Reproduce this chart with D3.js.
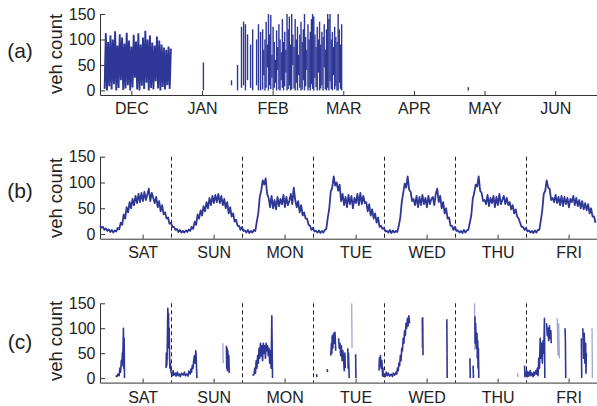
<!DOCTYPE html>
<html>
<head>
<meta charset="UTF-8">
<title>veh count</title>
<style>
  body { margin: 0; background: #fff; }
  svg { display: block; }
  text { font-family: "Liberation Sans", Arial, Helvetica, sans-serif; fill: #222; }
</style>
</head>
<body>
<script src="https://d3js.org/d3.v7.min.js"></script>
<script>
// ---- panel (a): months ----
var monthLabels = ["DEC", "JAN", "FEB", "MAR", "APR", "MAY", "JUN"]
var decStart = -11.5 // day of first December sample (days from Dec 1)
var decHigh = [112, 95, 108, 100, 116, 88, 110, 104, 92, 113, 98, 86, 109, 96, 112, 90, 104, 117, 100, 108, 94, 88, 106, 98, 90, 84, 80, 86, 82]
var decLow = [3, 0, 8, 2, 12, 0, 5, 20, 1, 4, 10, 0, 6, 25, 2, 0, 9, 3, 15, 0, 5, 2, 18, 4, 0, 7, 2, 10, 3]
// isolated bursts [day, low, high]
var aBars = [[31.0, 0, 55], [43.1, 10, 20], [45.7, 0, 50], [47.4, 5, 125], [48.3, 10, 135], [49.1, 0, 130],
  [50.0, 20, 110], [51.3, 5, 90], [52.2, 0, 120], [53.9, 10, 100], [54.7, 0, 130], [55.6, 0, 115], [145, 0, 6]]
var febStart = 56.5 // dense February block, half-day samples [low, high]
var febDense = [[2, 120], [30, 80], [0, 100], [5, 135], [45, 90], [0, 150], [10, 110], [3, 148], [25, 70], [0, 125],
  [5, 95], [15, 60], [0, 118], [40, 85], [2, 130], [0, 100], [20, 75], [5, 140], [0, 95], [8, 115],
  [35, 80], [0, 150], [3, 120], [10, 145], [0, 90], [2, 150], [50, 110], [4, 85], [0, 140], [15, 100],
  [0, 125], [30, 70], [5, 110], [0, 135], [2, 95], [20, 120], [0, 150], [8, 105], [40, 80], [0, 130],
  [5, 100], [0, 115], [12, 140], [3, 150], [0, 145], [25, 110], [6, 85], [0, 125], [35, 100], [0, 135],
  [4, 90], [10, 115], [0, 105], [45, 130], [2, 80], [0, 120], [5, 150], [0, 140], [18, 150], [3, 100],
  [0, 115], [30, 85], [2, 125], [8, 105], [0, 95], [0, 150], [15, 120], [3, 90], [0, 130]]

// ---- panel (b): one week, half-hour values ----
var dayLabels = ["SAT", "SUN", "MON", "TUE", "WED", "THU", "FRI"]
var satVals = [16, 12, 14, 8, 11, 6, 9, 4, 8, 3, 7, 5, 12, 9, 22, 18, 38, 30, 52, 42, 62, 50, 68, 56, 74, 60, 78, 62, 80, 64, 82, 66, 76, 88, 64, 80, 70, 60, 72, 52, 64, 44, 56, 38, 42, 30, 32, 20]
var sunVals = [22, 14, 14, 8, 10, 4, 8, 3, 6, 3, 7, 4, 9, 6, 14, 10, 24, 18, 38, 30, 46, 36, 54, 44, 62, 50, 70, 56, 74, 60, 76, 62, 78, 60, 74, 56, 68, 50, 62, 40, 52, 34, 40, 24, 28, 16, 16, 8]
var monVals = [14, 6, 7, 3, 8, 2, 6, 3, 8, 6, 24, 40, 72, 84, 104, 96, 108, 78, 70, 52, 74, 50, 66, 48, 72, 54, 68, 58, 76, 52, 72, 56, 64, 78, 58, 90, 66, 52, 64, 42, 56, 36, 42, 30, 30, 18, 16, 8]
var tueVals = [12, 5, 6, 3, 7, 2, 6, 3, 8, 10, 32, 50, 82, 90, 112, 94, 100, 84, 96, 64, 78, 56, 72, 52, 76, 58, 74, 50, 70, 60, 78, 56, 80, 58, 74, 60, 62, 44, 58, 36, 48, 30, 40, 22, 32, 14, 16, 10]
var wedVals = [12, 5, 6, 3, 8, 2, 7, 3, 6, 4, 16, 32, 62, 80, 98, 90, 112, 86, 82, 64, 68, 56, 74, 52, 72, 56, 76, 58, 70, 52, 74, 58, 68, 72, 56, 78, 88, 62, 74, 50, 62, 40, 50, 30, 32, 16, 16, 8]
var thuVals = [14, 6, 7, 3, 6, 2, 8, 3, 7, 8, 22, 36, 68, 80, 96, 92, 112, 84, 80, 64, 66, 58, 76, 54, 70, 60, 74, 52, 72, 56, 78, 58, 66, 74, 58, 70, 56, 62, 48, 56, 40, 48, 34, 30, 22, 14, 14, 8]
var friVals = [12, 5, 7, 3, 6, 2, 7, 3, 8, 8, 26, 46, 78, 84, 104, 90, 88, 66, 70, 62, 76, 60, 72, 56, 74, 54, 72, 58, 70, 52, 68, 62, 74, 56, 70, 54, 66, 50, 64, 48, 60, 46, 58, 40, 50, 34, 34, 22]
var weekVals = [satVals, sunVals, monVals, tueVals, wedVals, thuVals, friVals]

// ---- panel (c): same week, gappy detector; segments of [day, value] ----
var cSegments = [
  [[0.22, 5], [0.24, 3], [0.25, 8], [0.27, 5], [0.28, 20], [0.29, 12], [0.30, 35], [0.31, 25], [0.315, 50], [0.32, 40], [0.325, 65], [0.33, 100], [0.335, 20], [0.34, 80], [0.345, 0]],
  [[0.93, 20], [0.935, 50], [0.94, 25], [0.945, 40], [0.95, 90], [0.955, 140], [0.96, 110], [0.965, 130], [0.97, 60], [0.975, 100], [0.98, 40], [0.985, 20], [0.99, 30], [1.0, 12], [1.02, 5], [1.03, 15], [1.04, 6], [1.06, 10], [1.07, 4], [1.09, 12], [1.1, 5], [1.12, 8], [1.13, 3], [1.15, 10], [1.17, 6], [1.19, 12], [1.2, 5], [1.22, 8], [1.24, 4], [1.25, 14], [1.27, 8], [1.28, 18], [1.29, 12], [1.3, 25], [1.31, 20], [1.32, 35], [1.33, 45], [1.34, 30], [1.35, 55], [1.355, 40], [1.36, 20], [1.365, 0]],
  [[1.78, 65], [1.785, 20], [1.79, 60], [1.795, 15], [1.80, 55], [1.81, 25], [1.815, 45], [1.82, 10]],
  [[2.15, 5], [2.17, 8], [2.18, 20], [2.19, 10], [2.2, 35], [2.21, 20], [2.22, 45], [2.23, 30], [2.24, 60], [2.25, 40], [2.26, 70], [2.27, 45], [2.28, 65], [2.29, 35], [2.3, 70], [2.31, 50], [2.32, 65], [2.33, 40], [2.34, 70], [2.35, 55], [2.36, 65], [2.37, 45], [2.38, 60], [2.39, 30], [2.4, 55], [2.41, 20], [2.42, 125], [2.425, 60], [2.43, 0]],
  [[3.05, 8], [3.055, 2]],
  [[3.2, 18], [3.205, 12]],
  [[3.25, 45], [3.26, 70], [3.265, 50], [3.27, 85], [3.28, 60], [3.29, 90], [3.3, 70], [3.31, 92], [3.32, 55]],
  [[3.36, 80], [3.37, 60], [3.38, 70], [3.39, 45], [3.4, 65], [3.41, 35], [3.42, 55], [3.43, 40], [3.44, 15], [3.45, 50], [3.455, 20]],
  [[3.49, 60], [3.495, 20], [3.5, 50], [3.51, 0]],
  [[3.6, 48], [3.605, 0]],
  [[3.93, 15], [3.935, 40], [3.94, 25], [3.95, 45], [3.96, 20], [3.97, 35], [3.98, 5], [3.985, 20], [3.99, 2]],
  [[4.0, 8], [4.02, 3], [4.03, 12], [4.05, 5], [4.06, 10], [4.08, 4], [4.1, 8], [4.12, 3], [4.13, 10], [4.15, 6], [4.17, 12], [4.18, 8], [4.19, 20], [4.2, 15], [4.21, 30], [4.22, 25], [4.23, 45], [4.24, 35], [4.25, 60], [4.26, 55], [4.27, 80], [4.28, 70], [4.29, 95], [4.3, 85], [4.31, 110], [4.32, 100], [4.33, 120], [4.34, 105], [4.35, 125], [4.36, 110]],
  [[4.545, 122], [4.55, 46]],
  [[4.885, 118], [4.89, 0]],
  [[5.21, 40], [5.215, 0]],
  [[5.255, 25], [5.26, 0]],
  [[5.28, 124], [5.285, 70], [5.29, 110], [5.3, 60], [5.31, 90], [5.315, 40], [5.32, 75], [5.325, 20], [5.33, 60], [5.335, 0]],
  [[5.98, 25], [5.985, 3], [5.99, 10], [6.0, 5], [6.01, 15], [6.02, 3], [6.03, 12], [6.04, 4], [6.06, 15], [6.07, 5], [6.08, 10], [6.1, 3], [6.11, 12], [6.12, 6], [6.14, 15], [6.15, 8], [6.16, 20], [6.17, 5], [6.18, 40], [6.19, 20], [6.2, 80], [6.205, 50], [6.21, 40], [6.22, 70], [6.23, 30], [6.24, 75], [6.25, 50], [6.26, 120], [6.265, 0]],
  [[6.29, 110], [6.3, 85], [6.31, 100], [6.32, 75], [6.33, 105], [6.34, 80], [6.35, 95], [6.355, 70]],
  [[6.55, 100], [6.555, 75], [6.56, 0]],
  [[6.78, 80], [6.785, 0]],
  [[6.8, 100], [6.81, 40], [6.82, 90], [6.83, 30], [6.84, 70], [6.845, 10], [6.85, 50]]
]
var cFaint = [
  [[1.73, 70], [1.735, 30]],
  [[3.545, 150], [3.55, 60]],
  [[4.53, 120], [4.535, 60]],
  [[5.275, 150], [5.28, 56]],
  [[5.88, 10], [5.89, 2]],
  [[6.44, 120], [6.45, 45], [6.46, 110], [6.47, 40]],
  [[6.93, 100], [6.935, 0]]
]
var yTicks = [0, 50, 100, 150]

var width = 597
var height = 406
var blue = "#2e3796"
var left = 100
var right = 597

var svg = d3.select("body").append("svg")
  .attr("width", width)
  .attr("height", height)

function yScale(top, bottom) {
  return d3.scaleLinear().domain([-9, 150]).range([bottom, top])
}

// axes, labels and panel letter
function drawFrame(x, y, tickVals, tickLabels, letter, labelPad, letterY, titleY) {
  var yAxis = d3.axisLeft(y).tickValues(yTicks).tickSizeInner(-5).tickSizeOuter(0).tickPadding(4.5)
  var gy = svg.append("g").attr("transform", "translate(" + left + ",0)").call(yAxis)
  var xAxis = d3.axisBottom(x).tickValues(tickVals)
    .tickFormat(function(d, i) { return tickLabels[i] })
    .tickSizeInner(-4).tickSizeOuter(0).tickPadding(labelPad)
  var gx = svg.append("g").attr("transform", "translate(0," + y.range()[0] + ")").call(xAxis)

  ;[gx, gy].forEach(function(g) {
    g.attr("color", "#333").attr("font-size", 16).attr("font-family", null)
    g.selectAll("text").attr("fill", "#222")
  })

  svg.append("text")
    .attr("x", 20).attr("y", letterY)
    .attr("text-anchor", "middle")
    .attr("font-size", 21)
    .text(letter)
  svg.append("text")
    .attr("transform", "translate(62," + titleY + ") rotate(-90)")
    .attr("text-anchor", "middle")
    .attr("font-size", 18.5)
    .text("veh count")
}

// ---------- (a) ----------
var xA = d3.scaleLinear().domain([-13.5, 200.4]).range([left, right])
var yA = yScale(14, 95)
drawFrame(xA, yA, monthLabels.map(function(d, i) { return i * 30.4 }), monthLabels, "(a)", 7.5, 58, 54)

var decPts = []
decLow.forEach(function(lo, i) {
  decPts.push([decStart + i, lo])
  decPts.push([decStart + i + 0.5, decHigh[i]])
})
svg.append("path")
  .attr("d", d3.line().x(function(d) { return xA(d[0]) }).y(function(d) { return yA(d[1]) })(decPts))
  .attr("fill", "none").attr("stroke", blue).attr("stroke-width", 1.9)

var febBars = aBars.concat(febDense.map(function(d, i) { return [febStart + i * 0.5, d[0], d[1]] }))
svg.append("g").selectAll("line").data(febBars).enter().append("line")
  .attr("x1", function(d) { return xA(d[0]) })
  .attr("x2", function(d) { return xA(d[0]) })
  .attr("y1", function(d) { return yA(d[1]) })
  .attr("y2", function(d) { return yA(d[2]) })
  .attr("stroke", blue).attr("stroke-width", 1.4)

// ---------- (b) and (c) ----------
var xW = d3.scaleLinear().domain([0, 7]).range([left, right])
var dayTicks = dayLabels.map(function(d, i) { return i + 0.6 })

function drawDashes(y) {
  svg.append("g").selectAll("line").data(d3.range(1, 7)).enter().append("line")
    .attr("x1", function(d) { return Math.round(xW(d)) + 0.5 })
    .attr("x2", function(d) { return Math.round(xW(d)) + 0.5 })
    .attr("y1", y(150)).attr("y2", y(-9))
    .attr("stroke", "#222").attr("stroke-width", 1).attr("stroke-dasharray", "4,3")
}

var yB = yScale(156.7, 238.7)
drawFrame(xW, yB, dayTicks, dayLabels, "(b)", 7.5, 198, 198)
drawDashes(yB)
var weekPts = []
weekVals.forEach(function(vals, d) {
  vals.forEach(function(v, i) { weekPts.push([d + i / 48, v]) })
})
svg.append("path")
  .attr("d", d3.line().x(function(d) { return xW(d[0]) }).y(function(d) { return yB(d[1]) })(weekPts))
  .attr("fill", "none").attr("stroke", blue).attr("stroke-width", 1.8).attr("stroke-linejoin", "round")

var yC = yScale(303.3, 382.6)
drawFrame(xW, yC, dayTicks, dayLabels, "(c)", 9, 349, 341)
drawDashes(yC)
var lineC = d3.line().x(function(d) { return xW(d[0]) }).y(function(d) { return yC(d[1]) })
svg.append("g").selectAll("path").data(cFaint).enter().append("path")
  .attr("d", lineC)
  .attr("fill", "none").attr("stroke", blue).attr("stroke-opacity", 0.45).attr("stroke-width", 1.3)
svg.append("g").selectAll("path").data(cSegments).enter().append("path")
  .attr("d", lineC)
  .attr("fill", "none").attr("stroke", blue).attr("stroke-width", 1.6).attr("stroke-linejoin", "round")
</script>
</body>
</html>
